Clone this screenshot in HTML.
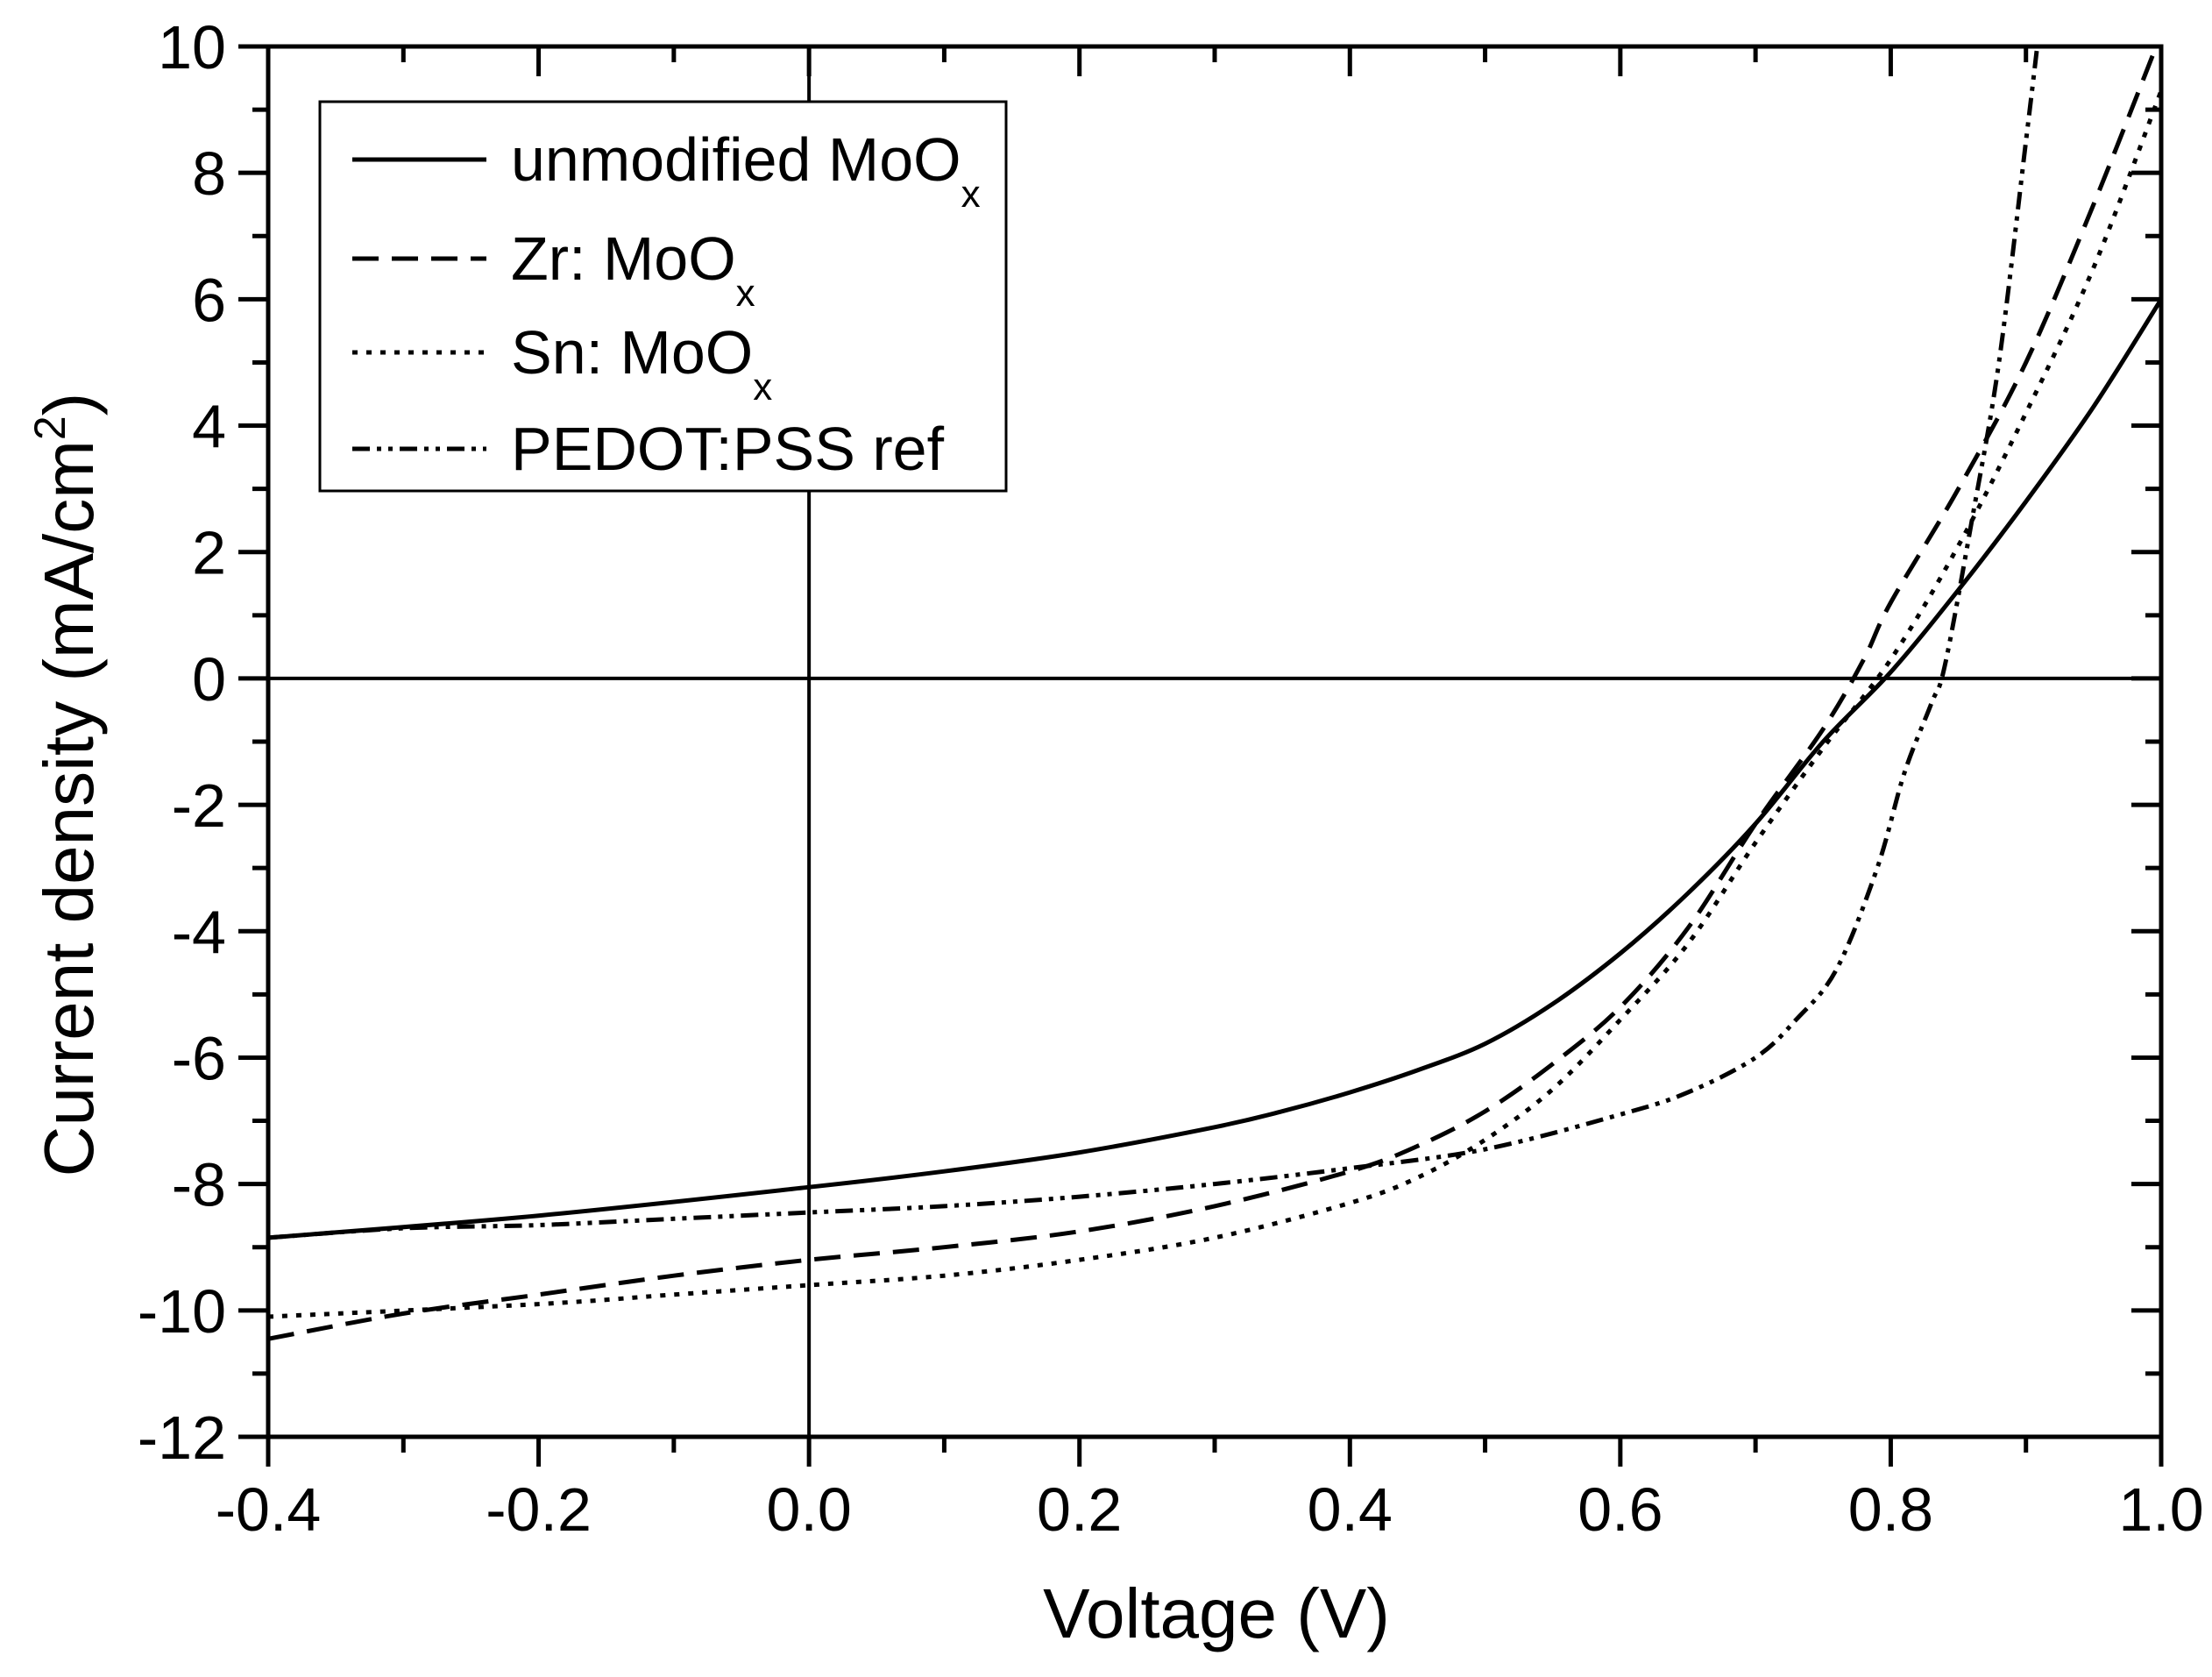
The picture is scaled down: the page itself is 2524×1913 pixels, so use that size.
<!DOCTYPE html>
<html><head><meta charset="utf-8">
<style>
html,body{margin:0;padding:0;background:#fff;}
svg{display:block;font-family:"Liberation Sans",Arial,sans-serif;}
</style></head>
<body>
<svg id="chart" width="2524" height="1913" viewBox="0 0 2524 1913" xmlns="http://www.w3.org/2000/svg">
<defs><clipPath id="plotclip"><rect x="306" y="53" width="2160" height="1586"/></clipPath></defs>
<g id="axes"></g>
<g id="series" clip-path="url(#plotclip)"></g>
<g id="legend">
  <rect x="365" y="116" width="783" height="444" fill="#fff" stroke="#000" stroke-width="3"/>
  <g>
    <line x1="402" y1="182" x2="555" y2="182" stroke="#000" stroke-width="5"/>
    <text x="583" y="206" font-size="70">unmodified MoO<tspan font-size="44" dy="30">x</tspan></text>
  </g>
  <g>
    <line x1="402" y1="295" x2="555" y2="295" stroke="#000" stroke-width="5" stroke-dasharray="30,15"/>
    <text x="583" y="319" font-size="70">Zr: MoO<tspan font-size="44" dy="30">x</tspan></text>
  </g>
  <g>
    <line x1="402" y1="402" x2="555" y2="402" stroke="#000" stroke-width="5" stroke-dasharray="6,10"/>
    <text x="583" y="426" font-size="70">Sn: MoO<tspan font-size="44" dy="30">x</tspan></text>
  </g>
  <g>
    <line x1="402" y1="512" x2="555" y2="512" stroke="#000" stroke-width="5" stroke-dasharray="20,8,5,8,5,8"/>
    <text x="583" y="536" font-size="70">PEDOT:PSS ref</text>
  </g>
</g>
<text x="1388" y="1868" font-size="80" text-anchor="middle">Voltage (V)</text>
<text transform="translate(106,895) rotate(-90)" font-size="80" text-anchor="middle">Current density (mA/cm<tspan font-size="50" dy="-32">2</tspan><tspan dy="32">)</tspan></text>
</svg>
<script>
const xTicks = [-0.4,-0.2,0.0,0.2,0.4,0.6,0.8,1.0];
const xTickLabels = ["-0.4","-0.2","0.0","0.2","0.4","0.6","0.8","1.0"];
const yTicks = [-12,-10,-8,-6,-4,-2,0,2,4,6,8,10];
const yTickLabels = ["-12","-10","-8","-6","-4","-2","0","2","4","6","8","10"];

const vUnmod = [-0.4,-0.2,0,0.1,0.2,0.3,0.35,0.4,0.45,0.5,0.55,0.6,0.65,0.7,0.75,0.8,0.85,0.9,0.95,1.0];
const jUnmod = [-8.85,-8.5,-8.05,-7.8,-7.5,-7.1,-6.85,-6.55,-6.2,-5.78,-5.15,-4.35,-3.4,-2.3,-1.0,0.1,1.4,2.8,4.3,6.0];
const vZr = [-0.4,-0.3,-0.2,-0.1,0,0.1,0.2,0.3,0.4,0.45,0.5,0.55,0.6,0.65,0.7,0.75,0.78,0.8,0.85,0.9,0.95,1.0];
const jZr = [-10.45,-10.05,-9.75,-9.45,-9.2,-9.0,-8.75,-8.35,-7.8,-7.4,-6.85,-6.1,-5.2,-3.95,-2.3,-0.8,0.3,1.2,3.0,5.0,7.5,10.2];
const vSn = [-0.4,-0.2,-0.1,0,0.1,0.2,0.3,0.4,0.45,0.5,0.55,0.6,0.65,0.7,0.75,0.8,0.85,0.9,0.95,1.0];
const jSn = [-10.1,-9.9,-9.75,-9.6,-9.45,-9.2,-8.85,-8.3,-7.9,-7.3,-6.5,-5.4,-4.2,-2.6,-1.1,0.3,2.1,4.2,6.5,9.3];
const vPed = [-0.4,-0.3,-0.2,-0.1,0,0.1,0.2,0.3,0.4,0.5,0.6,0.65,0.7,0.73,0.76,0.79,0.81,0.83,0.84,0.86,0.88,0.9,0.91];
const jPed = [-8.85,-8.7,-8.65,-8.55,-8.45,-8.35,-8.2,-8.0,-7.75,-7.45,-6.9,-6.55,-6.0,-5.4,-4.6,-3.0,-1.5,-0.4,0.2,2.5,5.0,8.5,10.3];

const L=306,R=2466,T=53,B=1639;
const xMin=-0.4,xMax=1.0,yMin=-12,yMax=10;
function sx(v){return L+(v-xMin)/(xMax-xMin)*(R-L);}
function sy(v){return B-(v-yMin)/(yMax-yMin)*(B-T);}
const NS="http://www.w3.org/2000/svg";
function mk(tag,attrs,parent){const e=document.createElementNS(NS,tag);for(const k in attrs)e.setAttribute(k,attrs[k]);parent.appendChild(e);return e;}
const axes=document.getElementById('axes');

const frame=mk('rect',{x:L,y:T,width:R-L,height:B-T,fill:'none',stroke:'#000','stroke-width':5},axes);


const zx=mk('line',{x1:L,x2:R,y1:sy(0),y2:sy(0),stroke:'#000','stroke-width':4},axes);


const zy=mk('line',{x1:sx(0),x2:sx(0),y1:T,y2:B,stroke:'#000','stroke-width':4},axes);



for(let i=0;i<xTicks.length;i++){
  const x=sx(xTicks[i]);
  const t=mk('line',{x1:x,x2:x,y1:B,y2:B+34,stroke:'#000','stroke-width':5},axes);
  
  
  mk('line',{x1:x,x2:x,y1:T,y2:T+34,stroke:'#000','stroke-width':5},axes);
  if(i<xTicks.length-1){
    const xm=sx((xTicks[i]+xTicks[i+1])/2);
    mk('line',{x1:xm,x2:xm,y1:B,y2:B+18,stroke:'#000','stroke-width':5},axes);
    mk('line',{x1:xm,x2:xm,y1:T,y2:T+18,stroke:'#000','stroke-width':5},axes);
  }
  const lb=mk('text',{x:x,y:1746,'font-size':70,'text-anchor':'middle'},axes);
  lb.textContent=xTickLabels[i];
  
  
}
for(let i=0;i<yTicks.length;i++){
  const y=sy(yTicks[i]);
  const t=mk('line',{x1:L-34,x2:L,y1:y,y2:y,stroke:'#000','stroke-width':5},axes);
  
  
  mk('line',{x1:R-34,x2:R,y1:y,y2:y,stroke:'#000','stroke-width':5},axes);
  if(i<yTicks.length-1){
    const ym=sy((yTicks[i]+yTicks[i+1])/2);
    mk('line',{x1:L-18,x2:L,y1:ym,y2:ym,stroke:'#000','stroke-width':5},axes);
    mk('line',{x1:R-18,x2:R,y1:ym,y2:ym,stroke:'#000','stroke-width':5},axes);
  }
  const lb=mk('text',{x:258,y:y+25,'font-size':70,'text-anchor':'end'},axes);
  lb.textContent=yTickLabels[i];
  
  
}

const sg=document.getElementById('series');
function drawSeries(vs,js,dash,name){
  const pts=vs.map((v,i)=>[sx(v),sy(js[i])]);
  let d='M'+pts[0][0].toFixed(1)+','+pts[0][1].toFixed(1);
  for(let i=0;i<pts.length-1;i++){
    const p0=pts[Math.max(0,i-1)],p1=pts[i],p2=pts[i+1],p3=pts[Math.min(pts.length-1,i+2)];
    const c1=[p1[0]+(p2[0]-p0[0])/6,p1[1]+(p2[1]-p0[1])/6];
    const c2=[p2[0]-(p3[0]-p1[0])/6,p2[1]-(p3[1]-p1[1])/6];
    d+='C'+c1[0].toFixed(1)+','+c1[1].toFixed(1)+' '+c2[0].toFixed(1)+','+c2[1].toFixed(1)+' '+p2[0].toFixed(1)+','+p2[1].toFixed(1);
  }
  const p=mk('path',{d:d,fill:'none',stroke:'#000','stroke-width':5,'stroke-linejoin':'round'},sg);
  if(dash) p.setAttribute('stroke-dasharray',dash);
  
  
}
drawSeries(vUnmod,jUnmod,null,'series-unmodified-moox');
drawSeries(vZr,jZr,'30,15','series-zr-moox');
drawSeries(vSn,jSn,'6,10','series-sn-moox');
drawSeries(vPed,jPed,'20,8,5,8,5,8','series-pedot-pss-ref');
</script>
</body></html>
